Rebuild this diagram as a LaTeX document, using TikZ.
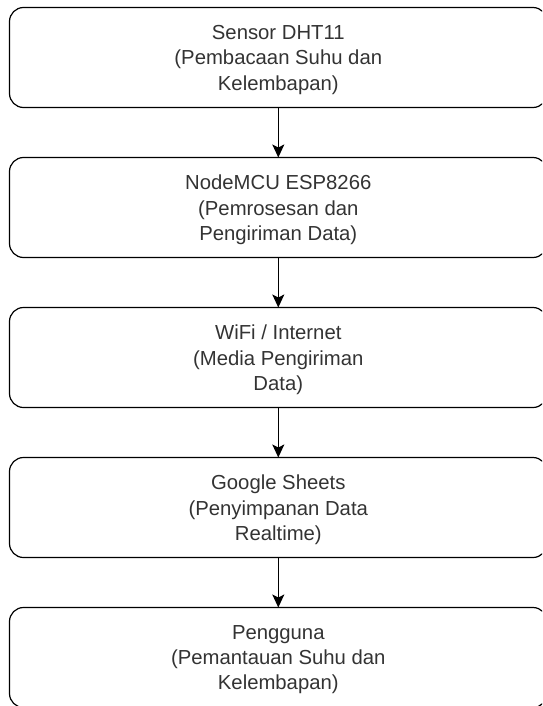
\documentclass[tikz,border=0pt]{standalone}
\usepackage{fontspec}
\setmainfont{Liberation Sans}
\usetikzlibrary{arrows.meta}
\definecolor{txt}{HTML}{333333}
\tikzset{
  flowbox/.style={draw=black, line width=1.2pt, rounded corners=14pt},
  flowtext/.style={anchor=north, inner sep=0pt, align=center, text=txt,
    font=\fontsize{20.3pt}{25.4pt}\selectfont},
  flowarrow/.style={draw=black, line width=1.2pt, -{Stealth[length=13pt,width=12pt,inset=3pt]}}
}
\begin{document}
\begin{tikzpicture}[x=1pt,y=-1pt]
\useasboundingbox (0,0) rectangle (542,706);
\begin{scope}
\clip (0,0) rectangle (542,706);
\draw[flowbox] (9.5,7.5) rectangle (547,107.5);
\draw[flowbox] (9.5,157.5) rectangle (547,257.5);
\draw[flowbox] (9.5,307.5) rectangle (547,407.5);
\draw[flowbox] (9.5,457.5) rectangle (547,557.5);
\draw[flowbox] (9.5,607.5) rectangle (547,707.5);
\end{scope}
\coordinate (b1t) at (278.3,7.5);   \coordinate (b1b) at (278.3,107.5);
\coordinate (b2t) at (278.3,157.5); \coordinate (b2b) at (278.3,257.5);
\coordinate (b3t) at (278.3,307.5); \coordinate (b3b) at (278.3,407.5);
\coordinate (b4t) at (278.3,457.5); \coordinate (b4b) at (278.3,557.5);
\coordinate (b5t) at (278.3,607.5);
\node[flowtext] (t1) at (278.3,25) {Sensor DHT11\\(Pembacaan Suhu dan\\Kelembapan)};
\node[flowtext] (t2) at (278.3,175) {NodeMCU ESP8266\\(Pemrosesan dan\\Pengiriman Data)};
\node[flowtext] (t3) at (278.3,325) {WiFi / Internet\\(Media Pengiriman\\Data)};
\node[flowtext] (t4) at (278.3,475) {Google Sheets\\(Penyimpanan Data\\Realtime)};
\node[flowtext] (t5) at (278.3,625) {Pengguna\\(Pemantauan Suhu dan\\Kelembapan)};
\draw[flowarrow] (b1b) -- (b2t);
\draw[flowarrow] (b2b) -- (b3t);
\draw[flowarrow] (b3b) -- (b4t);
\draw[flowarrow] (b4b) -- (b5t);
\end{tikzpicture}
\end{document}
